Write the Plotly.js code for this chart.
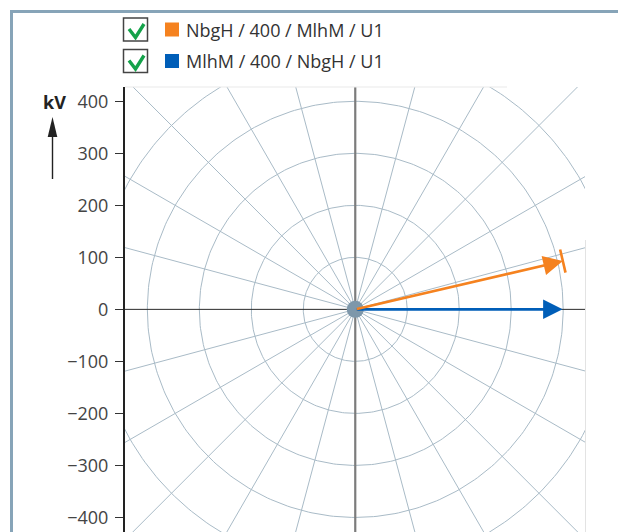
<!DOCTYPE html>
<html>
<head>
<meta charset="utf-8">
<script src="https://cdn.plot.ly/plotly-3.0.1.min.js"></script>
<style>
html,body{margin:0;padding:0;background:#fff;overflow:hidden;}
#chart{width:618px;height:532px;}
</style>
</head>
<body>
<div id="chart"></div>
<script>
// ---- data ----
const seriesNames = ["NbgH / 400 / MlhM / U1", "MlhM / 400 / NbgH / U1"];
const seriesColors = ["#f5821f", "#005eb8"];
const magnitudesKV = [410, 399];   // phasor magnitude, kV
const anglesDeg = [13.1, 0];       // phasor angle, degrees
const yTickVals = [-400, -300, -200, -100, 0, 100, 200, 300, 400];
const gridRadii = [100, 200, 300, 400, 500];
const spokeStepDeg = 15;
const unitLabel = "kV";

// ---- layout geometry helpers (pixel -> paper) ----
const W = 618, H = 532;
const M = {l: 125, r: 33, t: 87, b: 0};
const PW = W - M.l - M.r, PH = H - M.t - M.b;
const px = X => (X - M.l) / PW;
const py = Y => (H - M.b - Y) / PH;

const xRange = [-443, 442];
const yRange = [-428, 427.5];

const gridColor = "#a9bbc7";
const traces = [];

// grid circles
let cx = [], cy = [];
gridRadii.forEach(r => {
  for (let a = 0; a <= 360; a += 1) {
    cx.push(r * Math.cos(a * Math.PI / 180));
    cy.push(r * Math.sin(a * Math.PI / 180));
  }
  cx.push(null); cy.push(null);
});
traces.push({x: cx, y: cy, mode: "lines", line: {color: gridColor, width: 1}, hoverinfo: "skip", showlegend: false});

// spokes
let sx = [], sy = [];
for (let a = 0; a < 360; a += spokeStepDeg) {
  if (a % 90 === 0) continue;
  sx.push(0, 800 * Math.cos(a * Math.PI / 180), null);
  sy.push(0, 800 * Math.sin(a * Math.PI / 180), null);
}
traces.push({x: sx, y: sy, mode: "lines", line: {color: gridColor, width: 1}, hoverinfo: "skip", showlegend: false});

// axes lines
traces.push({x: [0, 0], y: [yRange[0], yRange[1]], mode: "lines", line: {color: "#7c7c7c", width: 2.2}, hoverinfo: "skip", showlegend: false});
traces.push({x: [xRange[0], xRange[1]], y: [0, 0], mode: "lines", line: {color: "#2a2a2a", width: 1}, hoverinfo: "skip", showlegend: false});

// center disc
traces.push({x: [0], y: [0], mode: "markers", marker: {size: 17, color: "#7d97aa"}, hoverinfo: "skip", showlegend: false});

// phasor tips
const tipX = magnitudesKV.map((m, i) => m * Math.cos(anglesDeg[i] * Math.PI / 180));
const tipY = magnitudesKV.map((m, i) => m * Math.sin(anglesDeg[i] * Math.PI / 180));

// orange end tick
traces.push({x: [tipX[0]], y: [tipY[0]], mode: "markers",
  marker: {symbol: "line-ns", size: 17, angle: -anglesDeg[0], line: {color: seriesColors[0], width: 2.6}},
  hoverinfo: "skip", showlegend: false});

const annotations = [];
const shapes = [];

// phasor arrows
for (let i = magnitudesKV.length - 1; i >= 0; i--) {
  annotations.push({x: tipX[i], y: tipY[i], ax: 0, ay: 0, xref: "x", yref: "y", axref: "x", ayref: "y",
    text: "", showarrow: true, arrowhead: 2, arrowsize: 1.5, arrowwidth: 2.6, arrowcolor: seriesColors[i], standoff: 0});
}

// legend
const rowY = [29.5, 61];
seriesNames.forEach((name, i) => {
  const yc = rowY[i];
  shapes.push({type: "rect", xref: "paper", yref: "paper", x0: px(123.5), x1: px(147.5), y0: py(yc - 11.5), y1: py(yc + 11.5),
    line: {color: "#444", width: 1.5}, fillcolor: "#fff"});
  shapes.push({type: "path", xref: "paper", yref: "paper",
    path: `M${px(129)},${py(yc - 0.5)} L${px(135.5)},${py(yc + 8)} L${px(144)},${py(yc - 5.5)}`,
    line: {color: "#14a24a", width: 3.4}});
  shapes.push({type: "rect", xref: "paper", yref: "paper", x0: px(165), x1: px(179), y0: py(yc - 7), y1: py(yc + 7),
    line: {width: 0}, fillcolor: seriesColors[i]});
  annotations.push({xref: "paper", yref: "paper", x: px(184), y: py(yc), xanchor: "left", yanchor: "middle",
    text: name, showarrow: false, font: {family: "Open Sans, sans-serif", size: 18, color: "#333"}});
});

// unit label + arrow
annotations.push({xref: "paper", yref: "paper", x: px(54), y: py(102), xanchor: "center", yanchor: "middle",
  text: "<b>" + unitLabel + "</b>", showarrow: false, font: {family: "Open Sans, sans-serif", size: 18, color: "#222"}});
shapes.push({type: "line", xref: "paper", yref: "paper", x0: px(52.5), x1: px(52.5), y0: py(179), y1: py(132),
  line: {color: "#222", width: 1.4}});
shapes.push({type: "path", xref: "paper", yref: "paper",
  path: `M${px(52.5)},${py(117)} L${px(57.3)},${py(137)} L${px(47.7)},${py(137)} Z`,
  fillcolor: "#222", line: {width: 0}});

// outer frame
shapes.push({type: "path", xref: "paper", yref: "paper",
  path: `M${px(11.5)},${py(560)} L${px(11.5)},${py(11.5)} L${px(640)},${py(11.5)}`,
  line: {color: "#87a4b8", width: 3}});

// faint plot border
shapes.push({type: "line", xref: "paper", yref: "paper", x0: px(125), x1: px(507), y0: py(87), y1: py(87),
  line: {color: "#e9e9e9", width: 1}});
shapes.push({type: "line", xref: "paper", yref: "paper", x0: px(585.5), x1: px(585.5), y0: py(240), y1: py(532),
  line: {color: "#e3e3e3", width: 1}});

const layout = {
  width: W, height: H,
  margin: M,
  paper_bgcolor: "#fff", plot_bgcolor: "#fff",
  showlegend: false,
  font: {family: "Open Sans, sans-serif", color: "#444"},
  xaxis: {range: xRange, showgrid: false, zeroline: false, showticklabels: false, ticks: "", showline: false, fixedrange: true},
  yaxis: {range: yRange, showgrid: false, zeroline: false, tickvals: yTickVals, ticks: "outside", ticklen: 8, tickwidth: 1.5,
    tickcolor: "#333", showline: true, linecolor: "#222", linewidth: 2, ticklabelstandoff: 3,
    tickfont: {family: "Open Sans, sans-serif", size: 18, color: "#444"}, fixedrange: true},
  annotations: annotations,
  shapes: shapes
};

Plotly.newPlot("chart", traces, layout, {displayModeBar: false, staticPlot: true});
</script>
</body>
</html>
